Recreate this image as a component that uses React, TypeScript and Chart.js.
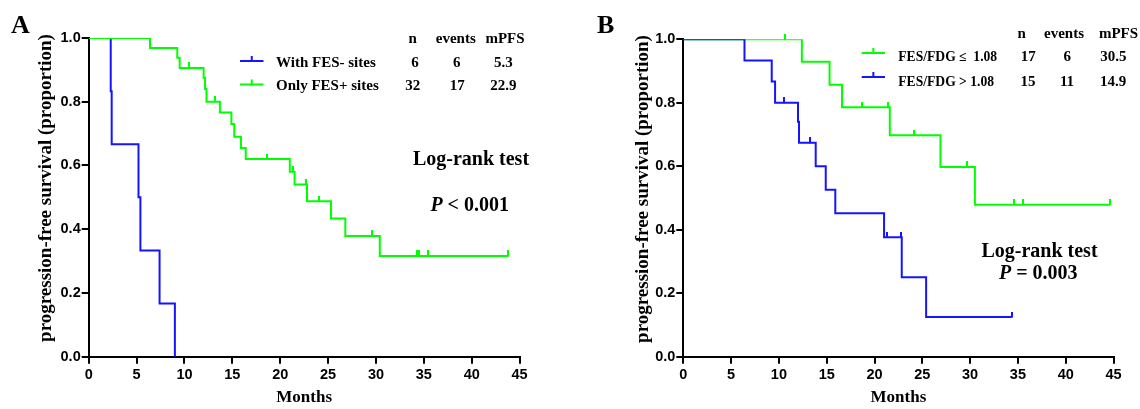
import React, { useEffect, useRef } from 'react';
import { Chart, registerables } from 'chart.js';

Chart.register(...registerables);

// ---------- shared axis data ----------
const xTickValues = [0, 5, 10, 15, 20, 25, 30, 35, 40, 45];
const yTickValues = [0, 0.2, 0.4, 0.6, 0.8, 1.0];
const xAxisTitle = 'Months';
const yAxisTitle = 'progression-free survival (proportion)';
const legendHeaders = ['n', 'events', 'mPFS'];

// ---------- Panel A ----------
const aNegTimes = [0, 2.3, 2.4, 5.2, 5.4, 7.4, 9.0];
const aNegSurv = [1, 0.833, 0.667, 0.5, 0.333, 0.167, 0];
const aNegCensor: number[] = [];

const aPosTimes = [0, 6.4, 9.25, 9.5, 12.0, 12.15, 12.3, 13.7, 14.9, 15.2, 15.9, 16.4, 21.0, 21.5, 22.8, 25.3, 26.8, 30.4, 43.8];
const aPosSurv = [1, 0.969, 0.938, 0.906, 0.875, 0.84, 0.8, 0.766, 0.73, 0.69, 0.655, 0.62, 0.58, 0.54, 0.488, 0.434, 0.379, 0.316, 0.316];
const aPosCensor = [10.5, 13.2, 18.6, 21.3, 22.7, 24.0, 29.6, 34.3, 34.5, 35.4, 43.8];

const aLabels = ['With FES- sites', 'Only FES+ sites'];
const aN = ['6', '32'];
const aEvents = ['6', '17'];
const aMpfs = ['5.3', '22.9'];
const aTest = 'Log-rank test';
const aP = ' < 0.001';

// ---------- Panel B ----------
const bLowTimes = [0, 12.4, 15.3, 16.6, 21.6, 26.9, 30.5, 44.6];
const bLowSurv = [1, 0.929, 0.857, 0.786, 0.698, 0.598, 0.479, 0.479];
const bLowCensor = [10.6, 18.7, 21.4, 24.1, 29.7, 34.6, 35.5, 44.6];

const bHighTimes = [0, 6.4, 9.25, 9.6, 12.0, 12.1, 13.85, 14.9, 15.9, 21.0, 22.85, 25.4, 34.35];
const bHighSurv = [1, 0.933, 0.867, 0.8, 0.74, 0.674, 0.6, 0.526, 0.452, 0.376, 0.25, 0.125, 0.125];
const bHighCensor = [10.5, 13.3, 21.3, 22.8, 34.35];

const bLabels = ['FES/FDG \u2264  1.08', 'FES/FDG > 1.08'];
const bN = ['17', '15'];
const bEvents = ['6', '11'];
const bMpfs = ['30.5', '14.9'];
const bTest = 'Log-rank test';
const bP = ' = 0.003';

// ---------- styles ----------
const GREEN = 'rgb(0, 255, 0)';
const BLUE = 'rgb(20, 20, 255)';
const W = 570;
const H = 409;
const SERIF = '"Liberation Serif", "Times New Roman", serif';
const SANS = '"Liberation Sans", Arial, sans-serif';

function stepPoints(times: number[], surv: number[]) {
  return times.map((t, i) => ({ x: t, y: surv[i] }));
}

function survAt(times: number[], surv: number[], t: number) {
  let s = surv[0];
  for (let i = 0; i < times.length; i++) {
    if (times[i] <= t) s = surv[i];
  }
  return s;
}

function tickImage(color: string) {
  const c = document.createElement('canvas');
  c.width = 2;
  c.height = 11;
  const ctx = c.getContext('2d')!;
  ctx.fillStyle = color;
  ctx.fillRect(0, 0, 2, 6);
  return c;
}

function lineDs(times: number[], surv: number[], color: string) {
  return {
    type: 'line' as const,
    data: stepPoints(times, surv),
    stepped: 'before' as const,
    borderColor: color,
    borderWidth: 2,
    pointRadius: 0,
    fill: false,
  };
}

function censorDs(times: number[], surv: number[], censor: number[], color: string) {
  return {
    type: 'scatter' as const,
    data: censor.map((t) => ({ x: t, y: survAt(times, surv, t) })),
    pointStyle: tickImage(color),
    pointRadius: 3,
    pointBorderWidth: 0,
    showLine: false,
    clip: false as const,
  };
}

interface PanelText {
  letter: string;
  letterX: number;
  yTitleX: number;
  yTitleY: number;
  headerX: number[];
  headerY: number;
  rowY: number[];
  symY: number[];
  symX: [number, number];
  colors: string[];
  labels: string[];
  labelX: number;
  rowFont: number;
  colX: number[][];
  cols: string[][];
  testX: number;
  testY: number;
  test: string;
  pX: number;
  pY: number;
  p: string;
}

function textPlugin(t: PanelText) {
  return {
    id: 'panelText',
    afterDraw(chart: Chart) {
      const ctx = chart.ctx;
      ctx.save();
      ctx.fillStyle = '#000';
      ctx.textBaseline = 'alphabetic';
      // panel letter
      ctx.font = `bold 26px ${SERIF}`;
      ctx.textAlign = 'left';
      ctx.fillText(t.letter, t.letterX, 32.5);
      // y title
      ctx.save();
      ctx.translate(t.yTitleX, t.yTitleY);
      ctx.rotate(-Math.PI / 2);
      ctx.font = `bold 19px ${SERIF}`;
      ctx.textAlign = 'center';
      ctx.textBaseline = 'middle';
      ctx.fillText(yAxisTitle, 0, 0);
      ctx.restore();
      // legend headers
      ctx.font = `bold 15px ${SERIF}`;
      ctx.textAlign = 'center';
      legendHeaders.forEach((h, i) => ctx.fillText(h, t.headerX[i], t.headerY));
      // legend rows
      t.labels.forEach((lab, r) => {
        ctx.strokeStyle = t.colors[r];
        ctx.lineWidth = 2;
        ctx.beginPath();
        ctx.moveTo(t.symX[0], t.symY[r]);
        ctx.lineTo(t.symX[1], t.symY[r]);
        const mid = (t.symX[0] + t.symX[1]) / 2;
        ctx.moveTo(mid, t.symY[r]);
        ctx.lineTo(mid, t.symY[r] - 5);
        ctx.stroke();
        ctx.font = `bold ${t.rowFont}px ${SERIF}`;
        ctx.textAlign = 'left';
        ctx.fillText(lab, t.labelX, t.rowY[r]);
        ctx.font = `bold 15px ${SERIF}`;
        ctx.textAlign = 'center';
        t.cols.forEach((col, c) => ctx.fillText(col[r], t.colX[c][r], t.rowY[r]));
      });
      // log-rank text
      ctx.font = `bold 20px ${SERIF}`;
      ctx.textAlign = 'center';
      ctx.fillText(t.test, t.testX, t.testY);
      const italic = `italic bold 20px ${SERIF}`;
      const bold = `bold 20px ${SERIF}`;
      ctx.font = italic;
      const wP = ctx.measureText('P').width;
      ctx.font = bold;
      const wR = ctx.measureText(t.p).width;
      const start = t.pX - (wP + wR) / 2;
      ctx.textAlign = 'left';
      ctx.font = italic;
      ctx.fillText('P', start, t.pY);
      ctx.font = bold;
      ctx.fillText(t.p, start + wP, t.pY);
      ctx.restore();
    },
  };
}

interface Frame {
  left: number;
  right: number;
  top: number;
  bottom: number;
}

function makeChart(canvas: HTMLCanvasElement, datasets: any[], frame: Frame, text: PanelText) {
  const tickFont = { family: SANS, weight: 'bold' as const, size: 14.5 };
  const gridOpts = { drawOnChartArea: false, drawTicks: true, tickLength: 7, color: '#000', lineWidth: 2 };
  return new Chart(canvas, {
    type: 'line',
    data: { datasets },
    options: {
      animation: false,
      responsive: false,
      maintainAspectRatio: false,
      events: [],
      layout: { padding: { left: 0, top: frame.top, right: W - frame.right, bottom: 0 } },
      plugins: {
        legend: { display: false },
        tooltip: { enabled: false },
      },
      scales: {
        x: {
          type: 'linear',
          min: 0,
          max: 45,
          afterBuildTicks: (s: any) => {
            s.ticks = xTickValues.map((v) => ({ value: v }));
          },
          afterFit: (s: any) => {
            s.height = H - frame.bottom;
          },
          ticks: { font: tickFont, color: '#000', padding: 3, maxRotation: 0, autoSkip: false },
          grid: gridOpts,
          border: { color: '#000', width: 2 },
          title: {
            display: true,
            text: xAxisTitle,
            color: '#000',
            font: { family: SERIF, weight: 'bold', size: 17 },
            padding: { top: 0, bottom: 1 },
          },
        },
        y: {
          type: 'linear',
          min: 0,
          max: 1,
          afterBuildTicks: (s: any) => {
            s.ticks = yTickValues.map((v) => ({ value: v }));
          },
          afterFit: (s: any) => {
            s.width = frame.left;
          },
          ticks: {
            font: tickFont,
            color: '#000',
            padding: 1,
            callback: (v: any) => Number(v).toFixed(1),
          },
          grid: gridOpts,
          border: { color: '#000', width: 2 },
        },
      },
    },
    plugins: [textPlugin(text)],
  });
}

function buildA(canvas: HTMLCanvasElement) {
  const datasets = [
    censorDs(aPosTimes, aPosSurv, aPosCensor, GREEN),
    censorDs(aNegTimes, aNegSurv, aNegCensor, BLUE),
    lineDs(aPosTimes, aPosSurv, GREEN),
    lineDs(aNegTimes, aNegSurv, BLUE),
  ];
  const text: PanelText = {
    letter: 'A',
    letterX: 11,
    yTitleX: 46,
    yTitleY: 188,
    headerX: [412.7, 455.8, 505],
    headerY: 43.3,
    rowY: [66.7, 90],
    symY: [61, 84.5],
    symX: [240, 263.5],
    colors: [BLUE, GREEN],
    labels: aLabels,
    labelX: 276,
    rowFont: 15,
    colX: [
      [415, 412.7],
      [456.7, 457.3],
      [503.3, 503.3],
    ],
    cols: [aN, aEvents, aMpfs],
    testX: 471,
    testY: 165,
    test: aTest,
    pX: 469.7,
    pY: 211,
    p: aP,
  };
  return makeChart(canvas, datasets, { left: 88.7, right: 519.6, top: 38, bottom: 356.7 }, text);
}

function buildB(canvas: HTMLCanvasElement) {
  const o = 570;
  const datasets = [
    censorDs(bHighTimes, bHighSurv, bHighCensor, BLUE),
    censorDs(bLowTimes, bLowSurv, bLowCensor, GREEN),
    lineDs(bHighTimes, bHighSurv, BLUE),
    lineDs(bLowTimes, bLowSurv, GREEN),
  ];
  const text: PanelText = {
    letter: 'B',
    letterX: 597 - o,
    yTitleX: 643 - o,
    yTitleY: 189,
    headerX: [1021.7 - o, 1064 - o, 1118.5 - o],
    headerY: 38.3,
    rowY: [61, 85.5],
    symY: [53, 77],
    symX: [861.7 - o, 885 - o],
    colors: [GREEN, BLUE],
    labels: bLabels,
    labelX: 898.3 - o,
    rowFont: 13.6,
    colX: [
      [1028.3 - o, 1028 - o],
      [1067.3 - o, 1067 - o],
      [1113.3 - o, 1113 - o],
    ],
    cols: [bN, bEvents, bMpfs],
    testX: 1039.5 - o,
    testY: 256.7,
    test: bTest,
    pX: 1038.3 - o,
    pY: 278.5,
    p: bP,
  };
  return makeChart(canvas, datasets, { left: 683.3 - o, right: 1113.5 - o, top: 39.3, bottom: 356.7 }, text);
}

function Panel({ left, build }: { left: number; build: (c: HTMLCanvasElement) => Chart }) {
  const ref = useRef<HTMLCanvasElement>(null);
  useEffect(() => {
    const chart = build(ref.current!);
    return () => chart.destroy();
  }, [build]);
  return (
    <canvas
      ref={ref}
      width={W}
      height={H}
      style={{ position: 'absolute', left, top: 0, width: W, height: H, display: 'block' }}
    />
  );
}

export default function App() {
  return (
    <div style={{ position: 'absolute', left: 0, top: 0, width: 1140, height: 409, background: '#fff', overflow: 'hidden' }}>
      <Panel left={0} build={buildA} />
      <Panel left={570} build={buildB} />
    </div>
  );
}
